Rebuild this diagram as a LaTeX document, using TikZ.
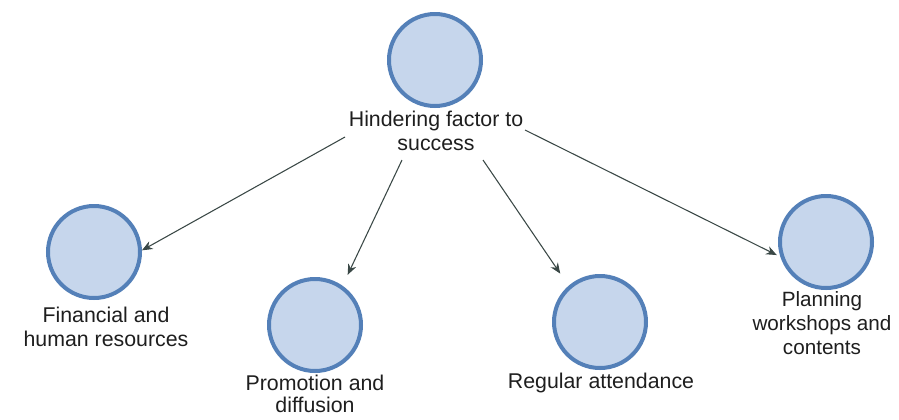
\documentclass[tikz,border=0pt]{standalone}
\usepackage{fontspec}
\setmainfont{Liberation Sans}
\usetikzlibrary{arrows.meta}
\definecolor{ringblue}{RGB}{84,128,184}
\definecolor{fillblue}{RGB}{198,214,236}
\definecolor{linkgray}{RGB}{58,72,70}
\definecolor{labelgray}{RGB}{30,30,30}
\tikzset{
  bubble/.style={circle, draw=ringblue, fill=fillblue, line width=3pt,
    minimum size=69pt, inner sep=0pt},
  caption/.style={align=center, text=labelgray, inner sep=0pt,
    font=\fontsize{16}{18}\selectfont},
  link/.style={draw=linkgray, line width=0.8pt,
    -{Stealth[length=8pt,width=6.5pt]}}
}
\begin{document}
\begin{tikzpicture}[x=0.75pt, y=-0.75pt]
  \useasboundingbox (0,0) rectangle (899,419);

  % circles
  \node[bubble] (top)  at (435,60)  {};
  \node[bubble] (fin)  at (94,252)  {};
  \node[bubble] (prom) at (315,325) {};
  \node[bubble] (reg)  at (600,322) {};
  \node[bubble] (plan) at (826,242) {};

  % captions
  \node[caption] (ltop)  at (436,131) {Hindering factor to\\success};
  \node[caption] (lfin)  at (106,327) {Financial and\\human resources};
  \node[caption, font=\fontsize{16}{17}\selectfont] (lprom) at (315,394)
    {Promotion and\\diffusion};
  \node[caption] (lreg)  at (601,383) {Regular attendance};
  \node[caption, font=\fontsize{15.5}{18}\selectfont] (lplan) at (822,323)
    {Planning\\workshops and\\contents};

  % connector start points around the central caption
  \coordinate (s1) at (345,137);
  \coordinate (s2) at (402,160);
  \coordinate (s3) at (483,160);
  \coordinate (s4) at (525,130);

  \draw[link] (s1) -- (fin.2);
  \draw[link, shorten >=9pt] (s2) -- (prom.55);
  \draw[link, shorten >=11pt] (s3) -- (reg.131);
  \draw[link, shorten >=3pt] (s4) -- (plan.198);
\end{tikzpicture}
\end{document}
